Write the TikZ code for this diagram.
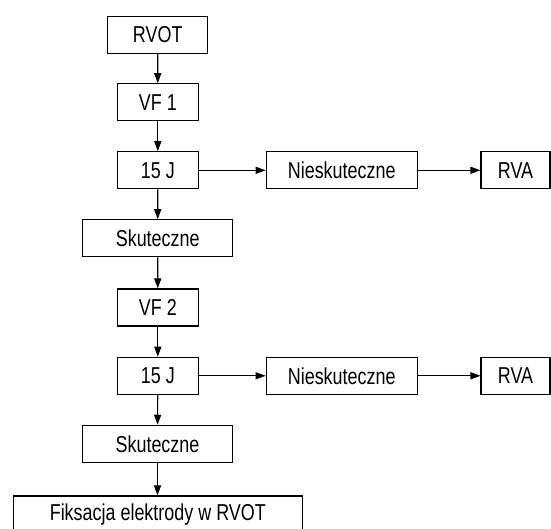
\documentclass[tikz,border=0pt]{standalone}
\usepackage{fontspec}
\setmainfont{Liberation Sans}[FakeStretch=0.78]
\usepackage{tikz}
\usetikzlibrary{arrows.meta}
\tikzset{
  stbox/.style={draw, line width=1.1pt, minimum height=37pt, inner sep=0pt,
                font=\fontsize{23}{26}\selectfont},
  pa/.style={-{Stealth[length=10pt,width=7pt,inset=0pt]}, line width=1.1pt},
}

\begin{document}
\begin{tikzpicture}[x=1pt,y=1pt]
  \useasboundingbox (0,0) rectangle (551,529);
  % main column
  \node[stbox,minimum width=100pt] (rvot) at (157.7,494){RVOT};
  \node[stbox,minimum width=81pt] (vf1) at (157.8,426.7){VF 1};
  \node[stbox,minimum width=81pt] (j1) at (157.8,358.7){15 J};
  \node[stbox,minimum width=150pt] (sk1) at (157.7,290.7){Skuteczne};
  \node[stbox,minimum width=81pt] (vf2) at (157.8,221.5){VF 2};
  \node[stbox,minimum width=81pt] (j2) at (157.8,153.2){15 J};
  \node[stbox,minimum width=150pt] (sk2) at (157.5,85.2){Skuteczne};
  \node[stbox,minimum width=289pt] (fix) at (157.8,14.5){Fiksacja elektrody w RVOT};
  % side branches
  \node[stbox,minimum width=151pt] (ns1) at (341.7,358.7){Nieskuteczne};
  \node[stbox,minimum width=69pt] (rva1) at (515.5,358.7){RVA};
  \node[stbox,minimum width=151pt] (ns2) at (341.7,153.2){Nieskuteczne};
  \node[stbox,minimum width=69pt] (rva2) at (515.5,153.2){RVA};

  \draw[pa] (rvot) -- (vf1);
  \draw[pa] (vf1) -- (j1);
  \draw[pa] (j1) -- (sk1);
  \draw[pa] (sk1) -- (vf2);
  \draw[pa] (vf2) -- (j2);
  \draw[pa] (j2) -- (sk2);
  \draw[pa] (sk2) -- (sk2.south |- fix.north);
  \draw[pa] (j1) -- (ns1);
  \draw[pa] (ns1) -- (rva1);
  \draw[pa] (j2) -- (ns2);
  \draw[pa] (ns2) -- (rva2);
\end{tikzpicture}
\end{document}
